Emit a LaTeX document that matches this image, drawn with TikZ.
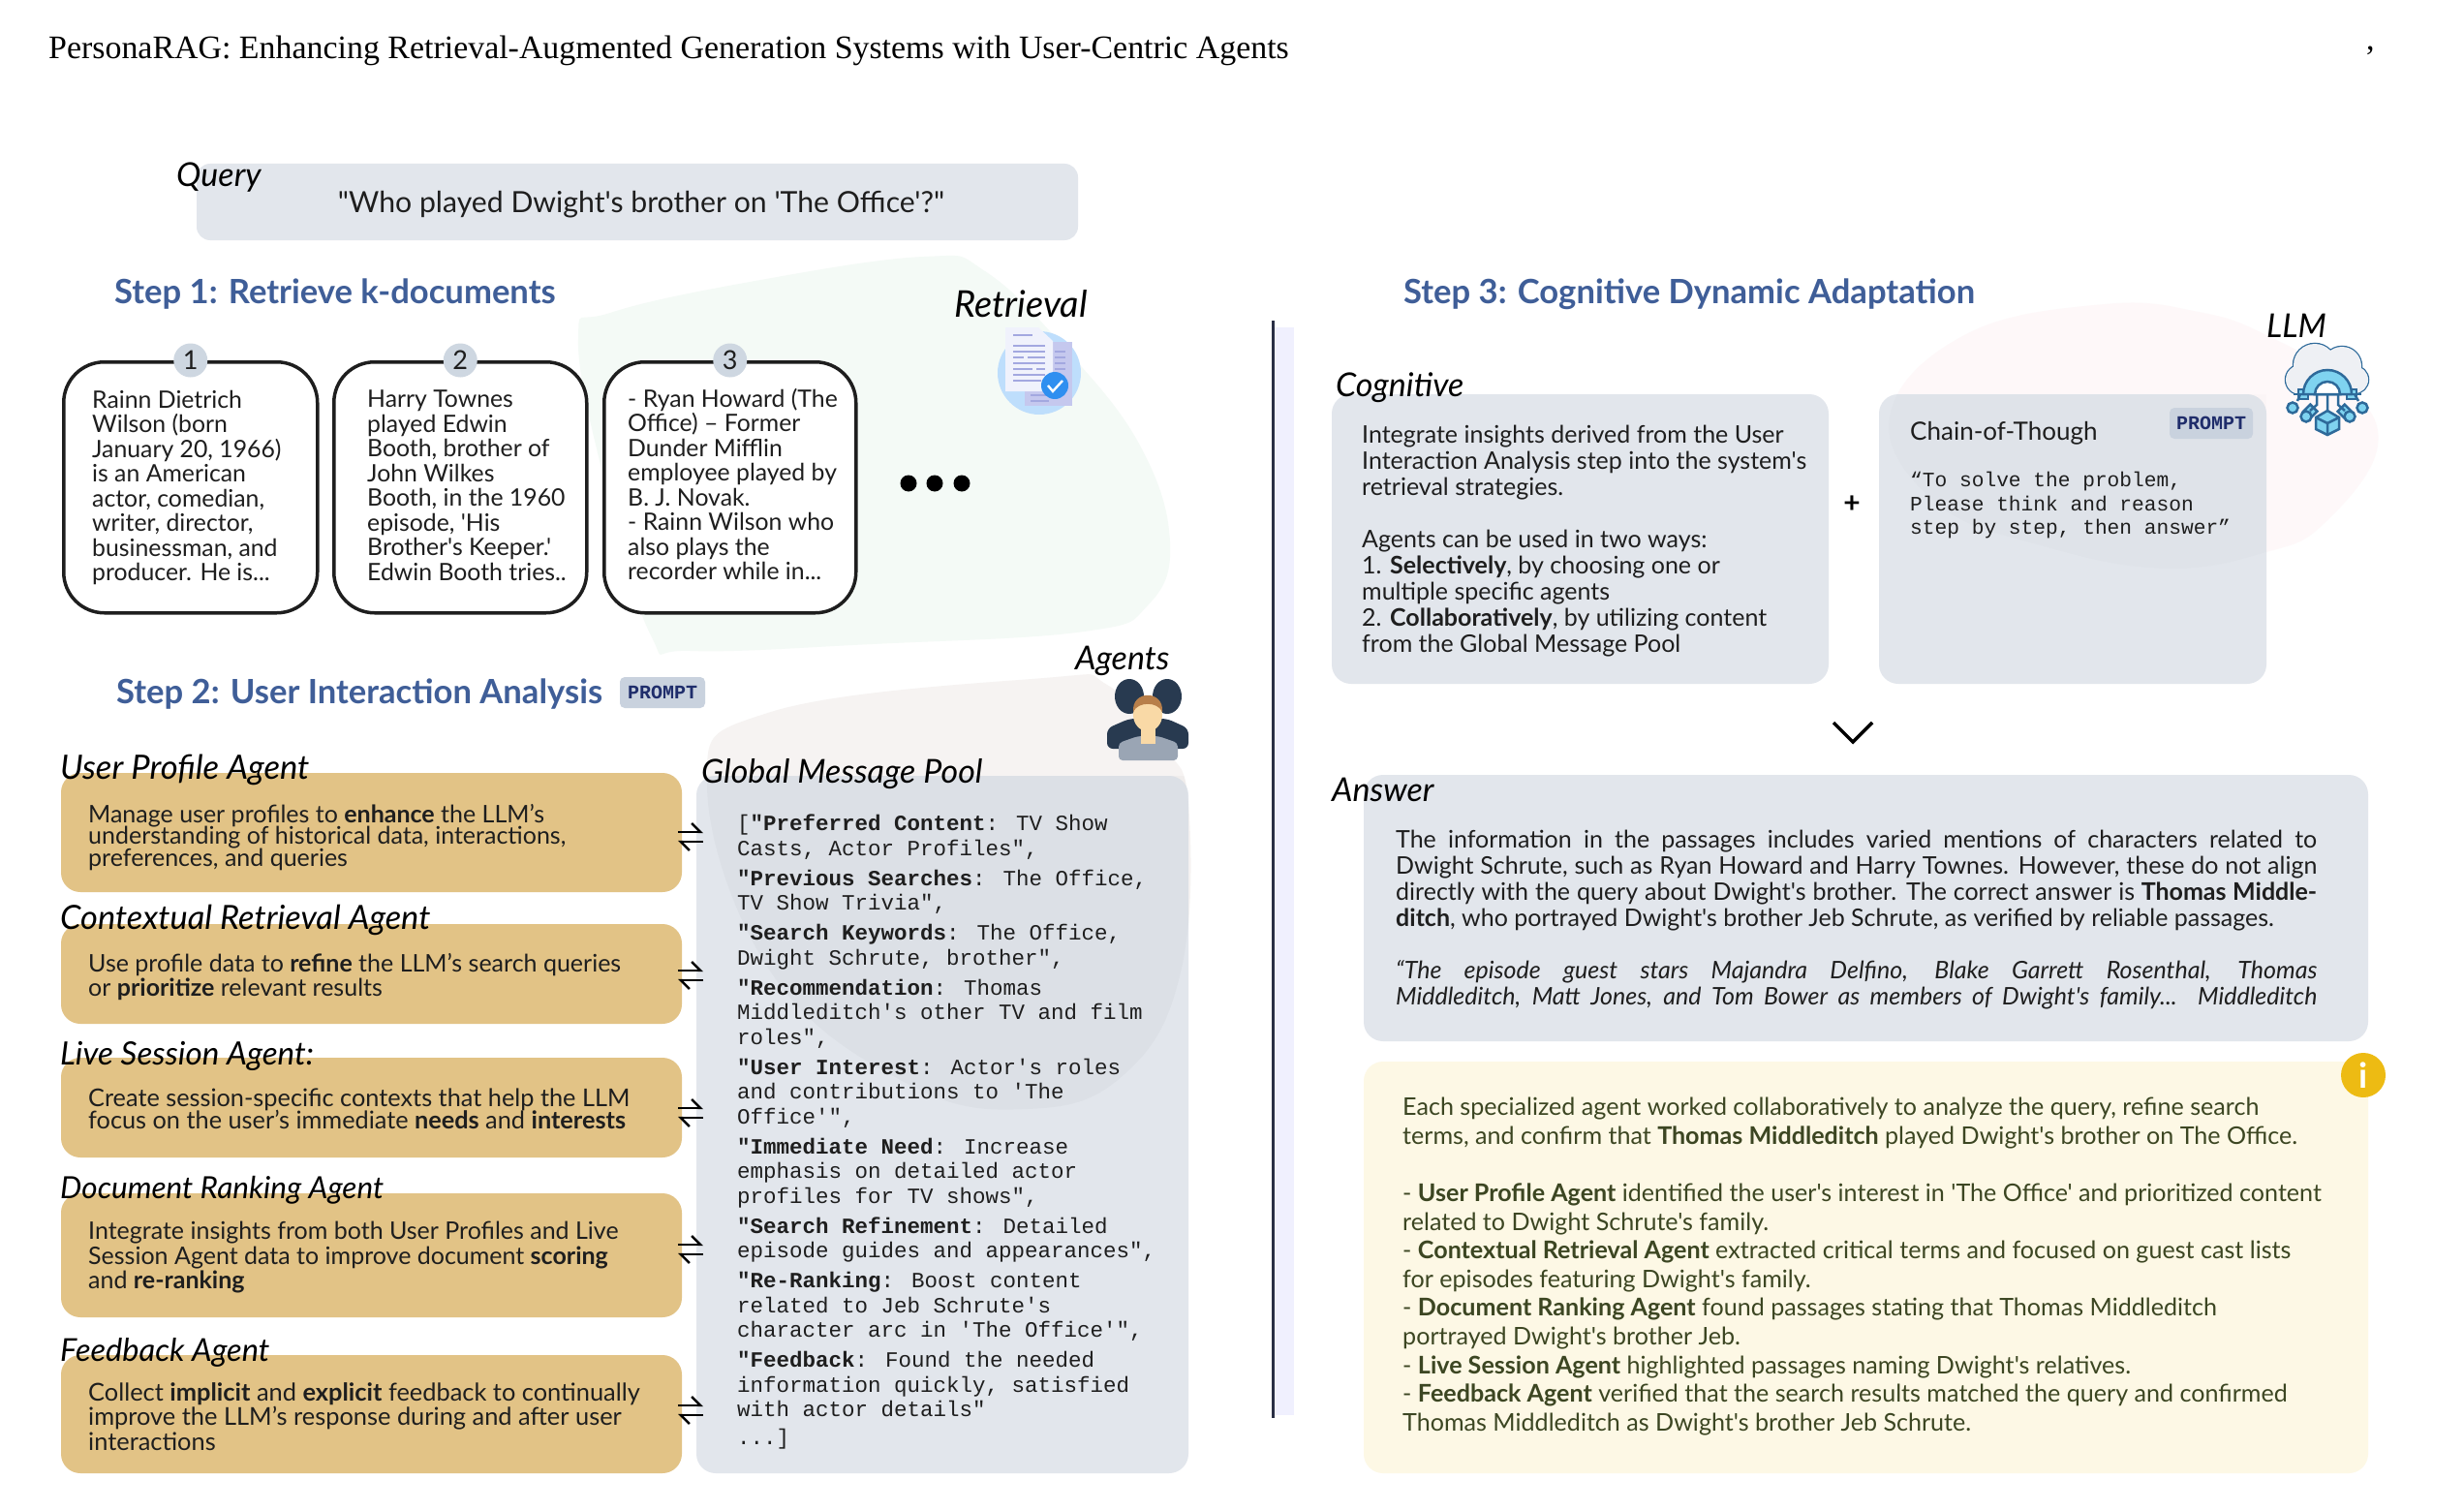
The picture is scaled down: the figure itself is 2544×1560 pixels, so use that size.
\documentclass[tikz,border=0pt]{standalone}
\usepackage{fontspec}
\usetikzlibrary{arrows.meta,calc}
\setmainfont{Lato}[Ligatures=TeXOff]
\newfontfamily\titlefnt{Liberation Serif}
\newfontfamily\monofnt{Liberation Mono}
\newfontfamily\handfnt{Lato}[Ligatures=TeXOff]
\lineskiplimit=-100pt
\definecolor{panel}{HTML}{E2E6EC}
\definecolor{tan}{HTML}{E2C386}
\definecolor{ink}{HTML}{1E1E1E}
\definecolor{stepblue}{HTML}{3F5E98}
\definecolor{tagbg}{HTML}{C9D2DE}
\definecolor{tagink}{HTML}{1F2D6B}
\definecolor{cream}{HTML}{FDF8E5}
\definecolor{olive}{HTML}{3C4622}
\definecolor{iconline}{HTML}{2E6A9A}
\definecolor{iconfill}{HTML}{7FD3F0}
\tikzset{
 panelbox/.style={anchor=north west,inner sep=0pt,rounded corners=20pt,fill=panel,line width=0pt},
 tanbox/.style={panelbox,fill=tan},
 cardbox/.style={anchor=north west,inner sep=0pt,rounded corners=42pt,draw=ink,line width=3.5pt,fill=white},
 numdot/.style={circle,fill=tagbg!90!white,inner sep=0pt,minimum size=35pt,font=\fontsize{27}{27}\selectfont,text=ink},
 handlab/.style={anchor=west,inner sep=0pt,font=\handfnt\itshape\fontsize{#1}{#1}\selectfont,text=black},
 handlab/.default=34,
 steptitle/.style={anchor=west,inner sep=0pt,font=\bfseries\fontsize{34.6}{34.6}\selectfont,text=stepblue},
 cardtxt/.style={anchor=north west,inner sep=0pt,align=left,text=ink,font=\fontsize{24.8}{25.5}\selectfont},
 agenttxt/.style={anchor=north west,inner sep=0pt,align=left,text=ink},
 tagbox/.style={fill=tagbg,rounded corners=5pt,inner sep=0pt,minimum width=#1,minimum height=32pt,text=tagink,font=\monofnt\bfseries\fontsize{20}{20}\selectfont},
 harp/.style={line width=2.4pt,black,-{Straight Barb[harpoon,length=9pt,width=18pt]}},
}
\begin{document}
\begin{tikzpicture}[x=1pt,y=-1pt]
\useasboundingbox (0,0) rectangle (2544,1560);
\fill[white] (0,0) rectangle (2544,1560);

% title
\node[anchor=west,inner sep=0pt,font=\titlefnt\fontsize{33.9}{34}\selectfont,text=black] (title) at (50,52)
 {PersonaRAG: Enhancing Retrieval-Augmented Generation Systems with User-Centric Agents};
\node[anchor=west,inner sep=0pt,font=\titlefnt\fontsize{34}{34}\selectfont] (comma) at (2443,52) {,};

% background blobs
\fill[color={rgb,255:red,244;green,250;blue,246}] plot[smooth cycle,tension=.7] coordinates
 {(954,265)(1017,280)(1100,360)(1177,460)(1208,560)(1185,625)(1119,652)(900,665)(713,672)(672,656)(625,500)(597,350)(630,323)(780,290)};
\fill[color={rgb,255:red,254;green,248;blue,249}] plot[smooth cycle,tension=.7] coordinates
 {(2173,314)(2270,322)(2340,346)(2420,395)(2455,460)(2400,540)(2340,570)(2236,587)(2110,564)(2000,520)(1951,430)(2030,345)};
\fill[color={rgb,255:red,246;green,243;blue,242}] plot[smooth cycle,tension=.7] coordinates
 {(1078,700)(1143,707)(1200,770)(1227,830)(1219,1004)(1160,1110)(1061,1145)(937,1119)(796,1004)(730,810)(796,735)};

% query
\node[panelbox,minimum width=910pt,minimum height=79pt,rounded corners=14pt] (query) at (203,169) {};
\node[inner sep=0pt,text=ink,font=\fontsize{30.2}{31}\selectfont] (querytxt) at (662,211) {"Who played Dwight's brother on 'The Office'?"};
\node[handlab] (querylab) at (182,183) {Query};

% step 1
\node[steptitle] (step1) at (118,304) {Step 1: Retrieve k-documents};
\node[handlab=38] (retrlab) at (985,314) {Retrieval};

% cards
\node[cardbox,minimum width=262pt,minimum height=259pt] (c1) at (64,372) {};
\node[cardbox,minimum width=261pt,minimum height=259pt] (c2) at (343,372) {};
\node[cardbox,minimum width=260pt,minimum height=259pt] (c3) at (622,372) {};
\node[numdot] (n1) at (c1.north) {1};
\node[numdot] (n2) at (c2.north) {2};
\node[numdot] (n3) at (c3.north) {3};
\node[cardtxt] (t1) at (95,403) {Rainn Dietrich\\Wilson (born\\January 20, 1966)\\is an American\\actor, comedian,\\writer, director,\\businessman, and\\producer. He is...};
\node[cardtxt] (t2) at (379,403) {Harry Townes\\played Edwin\\Booth, brother of\\John Wilkes\\Booth, in the 1960\\episode, 'His\\Brother's Keeper.'\\Edwin Booth tries..};
\node[cardtxt] (t3) at (648,401) {- Ryan Howard (The\\Office) – Former\\Dunder Mifflin\\employee played by\\B. J. Novak.\\- Rainn Wilson who\\also plays the\\recorder while in...};
\fill[black] (938,499) circle (8.5pt) (965,499) circle (8.5pt) (993,499) circle (8.5pt);

% retrieval icon
\fill[color={rgb,255:red,190;green,222;blue,252}] (1073,385) circle (43pt);
\fill[color={rgb,255:red,197;green,200;blue,238}] (1058,353) rectangle (1107,419);
\fill[color={rgb,255:red,240;green,242;blue,252}] (1038,338) -- (1072,338) -- (1087,352) -- (1087,404) -- (1038,404) -- cycle;
\draw[line width=2pt,color={rgb,255:red,163;green,168;blue,224}]
 (1046,346) -- (1066,346) (1046,357) -- (1079,357) (1046,363) -- (1079,363) (1046,369) -- (1057,369) (1061,369) -- (1079,369)
 (1046,375) -- (1079,375) (1046,381) -- (1066,381) (1070,381) -- (1079,381) (1046,387) -- (1079,387) (1046,393) -- (1075,393)
 (1089,363) -- (1100,363) (1089,369) -- (1100,369) (1089,375) -- (1100,375) (1089,381) -- (1100,381)
 (1064,408) -- (1083,408) (1064,414) -- (1083,414);
\fill[color={rgb,255:red,47;green,143;blue,240}] (1089,398) circle (14pt);
\draw[white,line width=2.4pt] (1082,398) -- (1087,404) -- (1097,393);

% step 2
\node[steptitle] (step2) at (120,717) {Step 2: User Interaction Analysis};
\node[tagbox=88pt] (tag2) at (684,715) {PROMPT};
\node[handlab] (agentslab) at (1110,682) {Agents};

% pool
\node[panelbox,minimum width=508pt,minimum height=720pt] (pool) at (719,801) {};
\begin{scope}
 \clip (719,801) rectangle (1227,1521);
 \fill[black,opacity=.022] plot[smooth cycle,tension=.7] coordinates
 {(1078,700)(1143,707)(1200,770)(1227,830)(1219,1004)(1160,1110)(1061,1145)(937,1119)(796,1004)(730,810)(796,735)};
\end{scope}
\node[handlab] (poollab) at (724,799) {Global Message Pool};
\node[anchor=north west,inner sep=0pt,align=left,text=ink,font=\monofnt\fontsize{22.5}{25.5}\selectfont] (pooltxt) at (761,841)
 {[{\bfseries"Preferred Content}: TV Show\\Casts, Actor Profiles",\\[5.5pt]
 {\bfseries"Previous Searches}: The Office,\\TV Show Trivia",\\[5.5pt]
 {\bfseries"Search Keywords}: The Office,\\Dwight Schrute, brother",\\[5.5pt]
 {\bfseries"Recommendation}: Thomas\\Middleditch's other TV and film\\roles",\\[5.5pt]
 {\bfseries"User Interest}: Actor's roles\\and contributions to 'The\\Office'",\\[5.5pt]
 {\bfseries"Immediate Need}: Increase\\emphasis on detailed actor\\profiles for TV shows",\\[5.5pt]
 {\bfseries"Search Refinement}: Detailed\\episode guides and appearances",\\[5.5pt]
 {\bfseries"Re-Ranking}: Boost content\\related to Jeb Schrute's\\character arc in 'The Office'",\\[5.5pt]
 {\bfseries"Feedback}: Found the needed\\information quickly, satisfied\\with actor details"\\[3pt]
 ...]};

% agents icon
\fill[color={rgb,255:red,40;green,58;blue,80}] (1166,719) ellipse (15pt and 18pt) (1205,719) ellipse (15pt and 18pt);
\fill[color={rgb,255:red,40;green,58;blue,80},rounded corners=6pt] (1143,773) -- (1143,752) -- (1166,742) -- (1205,742) -- (1227,752) -- (1227,773) -- cycle;
\fill[color={rgb,255:red,154;green,165;blue,180},rounded corners=4pt] (1155,785) -- (1155,767) -- (1175,760) -- (1196,760) -- (1216,767) -- (1216,785) -- cycle;
\fill[color={rgb,255:red,249;green,217;blue,166}] (1178,745) rectangle (1193,768);
\fill[color={rgb,255:red,249;green,217;blue,166}] (1185,738) ellipse (15pt and 17pt);
\fill[color={rgb,255:red,184;green,127;blue,74}] (1170,735) .. controls (1168,712) and (1202,712) .. (1200,735) .. controls (1195,724) and (1175,724) .. (1170,735) -- cycle;

% agent boxes
\node[tanbox,minimum width=641pt,minimum height=123pt] (a1) at (63,798) {};
\node[tanbox,minimum width=641pt,minimum height=103pt] (a2) at (63,954) {};
\node[tanbox,minimum width=641pt,minimum height=103pt] (a3) at (63,1092) {};
\node[tanbox,minimum width=641pt,minimum height=128pt] (a4) at (63,1232) {};
\node[tanbox,minimum width=641pt,minimum height=122pt] (a5) at (63,1399) {};
\node[handlab=34.6] (l1) at (62,795) {User Profile Agent};
\node[handlab=34.4] (l2) at (62,950) {Contextual Retrieval Agent};
\node[handlab=33.2] (l3) at (62,1090) {Live Session Agent:};
\node[handlab=31.5] (l4) at (62,1229) {Document Ranking Agent};
\node[handlab=32.6] (l5) at (62,1396) {Feedback Agent};
\node[agenttxt,font=\fontsize{25}{22.5}\selectfont] (at1) at (91,830) {Manage user profiles to {\bfseries enhance} the LLM’s\\understanding of historical data, interactions,\\preferences, and queries};
\node[agenttxt,font=\fontsize{25}{25.5}\selectfont] (at2) at (91,984) {Use profile data to {\bfseries refine} the LLM’s search queries\\or {\bfseries prioritize} relevant results};
\node[agenttxt,font=\fontsize{25.3}{22.5}\selectfont] (at3) at (91,1124) {Create session-specific contexts that help the LLM\\focus on the user’s immediate {\bfseries needs} and {\bfseries interests}};
\node[agenttxt,font=\fontsize{25}{25.5}\selectfont] (at4) at (91,1261) {Integrate insights from both User Profiles and Live\\Session Agent data to improve document {\bfseries scoring}\\and {\bfseries re-ranking}};
\node[agenttxt,font=\fontsize{25.4}{25.5}\selectfont] (at5) at (91,1427) {Collect {\bfseries implicit} and {\bfseries explicit} feedback to continually\\improve the LLM’s response during and after user\\interactions};

% harpoons between agents and pool
\foreach \i/\yy in {1/864,2/1007,3/1149,4/1290,5/1456}{
 \coordinate (hl\i) at (700,\yy-5);
 \coordinate (hr\i) at (726,\yy-5);
 \coordinate (hm\i) at (726,\yy+5);
 \coordinate (hn\i) at (700,\yy+5);
 \draw[harp] (hl\i) -- (hr\i);
 \draw[harp] (hm\i) -- (hn\i);
}

% divider
\fill[color={rgb,255:red,240;green,240;blue,254}] (1314,338) rectangle (1336,1461);
\draw[line width=3pt,color={rgb,255:red,42;green,47;blue,69}] (1314,331) -- (1314,1464);

% step 3
\node[steptitle] (step3) at (1449,304) {Step 3: Cognitive Dynamic Adaptation};
\node[handlab] (llmlab) at (2340,336) {LLM};
\node[panelbox,minimum width=513pt,minimum height=299pt] (cog) at (1375,407) {};
\node[panelbox,minimum width=400pt,minimum height=299pt] (cot) at (1940,407) {};
\begin{scope}
 \clip (1940,407) rectangle (2340,706);
 \fill[black,opacity=.012] plot[smooth cycle,tension=.7] coordinates
 {(2173,314)(2270,322)(2340,346)(2420,395)(2455,460)(2400,540)(2340,570)(2236,587)(2110,564)(2000,520)(1951,430)(2030,345)};
\end{scope}
\node[handlab] (coglab) at (1379,400) {Cognitive};
\node[agenttxt,font=\fontsize{25}{27}\selectfont] (cogtxt) at (1406,439) {Integrate insights derived from the User\\Interaction Analysis step into the system's\\retrieval strategies.\\[27pt]Agents can be used in two ways:\\1. {\bfseries Selectively}, by choosing one or\\multiple specific agents\\2. {\bfseries Collaboratively}, by utilizing content\\from the Global Message Pool};
\node[inner sep=0pt,font=\bfseries\fontsize{30}{30}\selectfont,text=black] (plus) at (1912,521) {+};
\node[anchor=west,inner sep=0pt,text=ink,font=\fontsize{26}{26}\selectfont] (cottitle) at (1972,447) {Chain-of-Though};
\node[tagbox=86pt] (tag3) at (2283,437) {PROMPT};
\node[anchor=north west,inner sep=0pt,align=left,text=ink,font=\monofnt\fontsize{21.2}{24.5}\selectfont] (cottxt) at (1972,487) {“To solve the problem,\\Please think and reason\\step by step, then answer”};

% llm icon
\begin{scope}[line width=2.5pt]
 \draw[iconline] (2390,377) circle (22pt) (2418,378) circle (20pt) (2375,392) circle (15pt) (2431,392) circle (14pt);
 \fill[color={rgb,255:red,238;green,240;blue,244}] (2390,377) circle (22pt) (2418,378) circle (20pt) (2375,392) circle (15pt) (2431,392) circle (14pt) (2375,378) rectangle (2431,407);
 \foreach \a in {0,-45,-90,-135,-180}{
  \filldraw[fill=iconfill,draw=iconline,rotate around={\a:(2403,407)}] (2423,402) rectangle (2433,412);
 }
 \filldraw[fill=iconfill,draw=iconline] (2378,407) arc[start angle=180,end angle=0,radius=25pt] -- cycle;
 \filldraw[fill=white,draw=iconline] (2390,407) arc[start angle=180,end angle=0,radius=13pt] -- cycle;
 \draw[iconline] (2368,407) -- (2438,407);
 \draw[iconline] (2403,407) -- (2403,425)
  (2392,407) -- (2392,418) -- (2385,424) (2414,407) -- (2414,418) -- (2421,424)
  (2375,407) -- (2372,414) (2431,407) -- (2435,414);
 \filldraw[fill=iconfill,draw=iconline] (2381,430) circle (5.5pt) (2426,430) circle (5.5pt) (2439,421) circle (5.5pt) (2367,421) circle (5.5pt);
 \filldraw[fill=iconfill,draw=iconline] (2403,424) -- (2415,431) -- (2415,443) -- (2403,449) -- (2391,443) -- (2391,431) -- cycle;
 \draw[iconline] (2391,431) -- (2403,437) -- (2415,431) (2403,437) -- (2403,449);
\end{scope}

% chevron
\coordinate (chl) at (1893,746);
\coordinate (chm) at (1913,766);
\coordinate (chr) at (1933,746);
\draw[line width=3.5pt,black] (chl) -- (chm) -- (chr);

% answer
\node[panelbox,minimum width=1037pt,minimum height=275pt] (ans) at (1408,800) {};
\node[handlab] (anslab) at (1375,815) {Answer};
\node[anchor=north west,inner sep=0pt,text width=951pt,align=justify,text=ink,font=\fontsize{25}{27}\selectfont] (anstxt) at (1441,857)
 {The information in the passages includes varied mentions of characters related to\linebreak Dwight Schrute, such as Ryan Howard and Harry Townes. However, these do not align\linebreak directly with the query about Dwight's brother. The correct answer is {\bfseries Thomas Middle-}\linebreak {\bfseries ditch}, who portrayed Dwight's brother Jeb Schrute, as verified by reliable passages.\\[27pt]
 {\itshape “The episode guest stars Majandra Delfino, Blake Garrett Rosenthal, Thomas\linebreak Middleditch, Matt Jones, and Tom Bower as members of Dwight's family... Middleditch\linebreak}};

% explanation
\node[panelbox,fill=cream,minimum width=1037pt,minimum height=425pt] (expl) at (1408,1096) {};
\node[anchor=north west,inner sep=0pt,align=left,text=olive,font=\fontsize{25.1}{29.6}\selectfont] (expltxt) at (1448,1133)
 {Each specialized agent worked collaboratively to analyze the query, refine search\\terms, and confirm that {\bfseries Thomas Middleditch} played Dwight's brother on The Office.\\[29.6pt]
 - {\bfseries User Profile Agent} identified the user's interest in 'The Office' and prioritized content\\related to Dwight Schrute's family.\\
 - {\bfseries Contextual Retrieval Agent} extracted critical terms and focused on guest cast lists\\for episodes featuring Dwight's family.\\
 - {\bfseries Document Ranking Agent} found passages stating that Thomas Middleditch\\portrayed Dwight's brother Jeb.\\
 - {\bfseries Live Session Agent} highlighted passages naming Dwight's relatives.\\
 - {\bfseries Feedback Agent} verified that the search results matched the query and confirmed\\Thomas Middleditch as Dwight's brother Jeb Schrute.};
\node[circle,fill={rgb,255:red,237;green,187;blue,19},minimum size=46pt,inner sep=0pt,text=white,font=\bfseries\fontsize{36}{36}\selectfont] (info) at (2440,1110) {i};
\end{tikzpicture}
\end{document}
